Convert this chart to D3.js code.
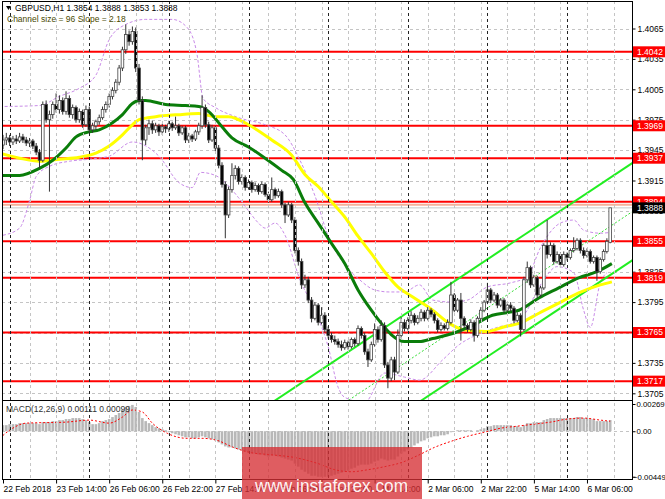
<!DOCTYPE html>
<html>
<head>
<meta charset="utf-8">
<script src="https://cdn.jsdelivr.net/npm/d3@7"></script>
<style>
  body { margin: 0; background: #fff; }
  svg { display: block; }
  text { font-family: "Liberation Sans", Arial, sans-serif; }
</style>
</head>
<body>
<div id="chart"></div>
<script>
// ---- data (GBPUSD H1, 22 Feb 22:00 .. 6 Mar 13:00) ----
// [open, high, low, close]
const candles = [
  [1.3950,1.3960,1.3946,1.3955],[1.3955,1.3962,1.3950,1.3957],[1.3957,1.3960,1.3949,1.3953],[1.3953,1.3959,1.3950,1.3956],
  [1.3956,1.3960,1.3951,1.3954],[1.3954,1.3962,1.3952,1.3958],[1.3958,1.3961,1.3952,1.3955],[1.3955,1.3958,1.3949,1.3952],
  [1.3952,1.3957,1.3948,1.3954],[1.3954,1.3956,1.3946,1.3949],[1.3949,1.3952,1.3940,1.3943],[1.3943,1.3946,1.3927,1.3935],
  [1.3935,1.3993,1.3933,1.3990],[1.3990,1.3994,1.3972,1.3975],[1.3975,1.3984,1.3904,1.3980],[1.3980,1.3993,1.3976,1.3990],
  [1.3990,1.4001,1.3982,1.3985],[1.3985,1.3999,1.3981,1.3994],[1.3994,1.3997,1.3980,1.3983],[1.3983,1.4003,1.3980,1.3996],
  [1.3996,1.3999,1.3977,1.3980],[1.3980,1.3990,1.3976,1.3987],[1.3987,1.3989,1.3972,1.3975],[1.3975,1.3986,1.3972,1.3983],
  [1.3983,1.3985,1.3967,1.3970],[1.3970,1.3989,1.3968,1.3985],[1.3985,1.3988,1.3962,1.3965],[1.3965,1.3972,1.3962,1.3969],
  [1.3969,1.3975,1.3965,1.3973],[1.3973,1.3980,1.3970,1.3977],[1.3977,1.3988,1.3975,1.3985],[1.3985,1.3993,1.3982,1.3990],
  [1.3990,1.4001,1.3987,1.3998],[1.3998,1.4007,1.3995,1.4004],[1.4004,1.4015,1.4001,1.4012],[1.4012,1.4029,1.4009,1.4026],
  [1.4026,1.4047,1.4023,1.4044],[1.4044,1.4069,1.4040,1.4059],[1.4059,1.4063,1.4048,1.4052],[1.4052,1.4067,1.4049,1.4062],
  [1.4062,1.4066,1.4022,1.4026],[1.4026,1.4030,1.3990,1.3994],[1.3994,1.3998,1.3935,1.3955],[1.3955,1.3970,1.3950,1.3967],
  [1.3967,1.3975,1.3960,1.3971],[1.3971,1.3974,1.3961,1.3965],[1.3965,1.3972,1.3962,1.3969],[1.3969,1.3971,1.3959,1.3963],
  [1.3963,1.3971,1.3960,1.3968],[1.3968,1.3970,1.3962,1.3966],[1.3966,1.3974,1.3963,1.3971],[1.3971,1.3973,1.3964,1.3967],
  [1.3967,1.3978,1.3965,1.3969],[1.3969,1.3971,1.3959,1.3962],[1.3962,1.3969,1.3960,1.3967],[1.3967,1.3969,1.3952,1.3955],
  [1.3955,1.3962,1.3952,1.3959],[1.3959,1.3961,1.3953,1.3956],[1.3956,1.3965,1.3954,1.3963],[1.3963,1.3972,1.3960,1.3969],
  [1.3969,1.3999,1.3966,1.3987],[1.3987,1.3990,1.3967,1.3970],[1.3970,1.3973,1.3952,1.3955],[1.3955,1.3970,1.3953,1.3967],
  [1.3967,1.3969,1.3944,1.3947],[1.3947,1.3950,1.3927,1.3930],[1.3930,1.3933,1.3908,1.3911],[1.3911,1.3914,1.3858,1.3881],
  [1.3881,1.3909,1.3878,1.3906],[1.3906,1.3932,1.3903,1.3920],[1.3920,1.3930,1.3916,1.3927],[1.3927,1.3929,1.3911,1.3914],
  [1.3914,1.3921,1.3911,1.3918],[1.3918,1.3920,1.3905,1.3908],[1.3908,1.3916,1.3906,1.3913],[1.3913,1.3915,1.3903,1.3906],
  [1.3906,1.3913,1.3904,1.3910],[1.3910,1.3912,1.3901,1.3904],[1.3904,1.3914,1.3902,1.3911],[1.3911,1.3913,1.3899,1.3901],
  [1.3901,1.3904,1.3893,1.3896],[1.3896,1.3918,1.3894,1.3906],[1.3906,1.3908,1.3897,1.3900],[1.3900,1.3907,1.3898,1.3904],
  [1.3904,1.3906,1.3888,1.3891],[1.3891,1.3893,1.3873,1.3881],[1.3881,1.3894,1.3879,1.3891],[1.3891,1.3893,1.3873,1.3876],
  [1.3876,1.3879,1.3843,1.3846],[1.3846,1.3849,1.3831,1.3835],[1.3835,1.3838,1.3808,1.3812],[1.3812,1.3822,1.3809,1.3817],
  [1.3817,1.3820,1.3794,1.3797],[1.3797,1.3800,1.3775,1.3779],[1.3779,1.3795,1.3777,1.3792],[1.3792,1.3794,1.3772,1.3775],
  [1.3775,1.3790,1.3773,1.3782],[1.3782,1.3785,1.3765,1.3768],[1.3768,1.3771,1.3759,1.3762],[1.3762,1.3765,1.3755,1.3758],
  [1.3758,1.3762,1.3753,1.3756],[1.3756,1.3759,1.3750,1.3753],[1.3753,1.3757,1.3747,1.3750],[1.3750,1.3758,1.3748,1.3755],
  [1.3755,1.3757,1.3748,1.3751],[1.3751,1.3760,1.3749,1.3758],[1.3758,1.3760,1.3751,1.3754],[1.3754,1.3772,1.3752,1.3769],
  [1.3769,1.3771,1.3759,1.3762],[1.3762,1.3765,1.3743,1.3746],[1.3746,1.3749,1.3731,1.3738],[1.3738,1.3756,1.3736,1.3753],
  [1.3753,1.3774,1.3751,1.3768],[1.3768,1.3771,1.3755,1.3758],[1.3758,1.3777,1.3756,1.3772],[1.3772,1.3775,1.3730,1.3733],
  [1.3733,1.3736,1.3710,1.3720],[1.3720,1.3741,1.3717,1.3738],[1.3738,1.3741,1.3718,1.3726],[1.3726,1.3768,1.3724,1.3762],
  [1.3762,1.3780,1.3759,1.3775],[1.3775,1.3778,1.3766,1.3769],[1.3769,1.3780,1.3767,1.3777],[1.3777,1.3786,1.3774,1.3782],
  [1.3782,1.3784,1.3772,1.3775],[1.3775,1.3782,1.3773,1.3779],[1.3779,1.3788,1.3776,1.3785],[1.3785,1.3787,1.3776,1.3779],
  [1.3779,1.3790,1.3777,1.3787],[1.3787,1.3789,1.3780,1.3783],[1.3783,1.3785,1.3774,1.3777],[1.3777,1.3779,1.3765,1.3768],
  [1.3768,1.3775,1.3766,1.3772],[1.3772,1.3774,1.3767,1.3769],[1.3769,1.3778,1.3767,1.3775],[1.3775,1.3815,1.3773,1.3802],
  [1.3802,1.3804,1.3785,1.3787],[1.3787,1.3799,1.3785,1.3797],[1.3797,1.3804,1.3757,1.3779],[1.3779,1.3781,1.3769,1.3772],
  [1.3772,1.3774,1.3765,1.3768],[1.3768,1.3778,1.3766,1.3775],[1.3775,1.3777,1.3756,1.3762],[1.3762,1.3781,1.3760,1.3779],
  [1.3779,1.3790,1.3777,1.3787],[1.3787,1.3797,1.3785,1.3795],[1.3795,1.3814,1.3793,1.3807],[1.3807,1.3809,1.3794,1.3797],
  [1.3797,1.3805,1.3795,1.3802],[1.3802,1.3804,1.3789,1.3792],[1.3792,1.3799,1.3790,1.3797],[1.3797,1.3799,1.3784,1.3787],
  [1.3787,1.3794,1.3785,1.3792],[1.3792,1.3795,1.3786,1.3789],[1.3789,1.3791,1.3774,1.3777],[1.3777,1.3785,1.3775,1.3782],
  [1.3782,1.3784,1.3761,1.3768],[1.3768,1.3820,1.3766,1.3817],[1.3817,1.3835,1.3814,1.3829],[1.3829,1.3831,1.3809,1.3812],
  [1.3812,1.3822,1.3810,1.3819],[1.3819,1.3821,1.3799,1.3802],[1.3802,1.3811,1.3800,1.3809],[1.3809,1.3853,1.3807,1.3851],
  [1.3851,1.3876,1.3838,1.3842],[1.3842,1.3854,1.3840,1.3851],[1.3851,1.3853,1.3832,1.3835],[1.3835,1.3845,1.3833,1.3842],
  [1.3842,1.3844,1.3829,1.3832],[1.3832,1.3845,1.3830,1.3842],[1.3842,1.3844,1.3836,1.3839],[1.3839,1.3848,1.3837,1.3846],
  [1.3846,1.3859,1.3844,1.3848],[1.3848,1.3858,1.3846,1.3856],[1.3856,1.3858,1.3843,1.3846],[1.3846,1.3849,1.3838,1.3841],
  [1.3841,1.3848,1.3839,1.3845],[1.3845,1.3847,1.3833,1.3835],[1.3835,1.3841,1.3833,1.3839],[1.3839,1.3841,1.3816,1.3825],
  [1.3825,1.3839,1.3823,1.3837],[1.3837,1.3847,1.3835,1.3845],[1.3845,1.3858,1.3843,1.3855],[1.3854,1.3888,1.3853,1.3888]
];

// moving averages, [bar, price]
const maGreen = [
  [-1,1.3920],[5,1.3920],[11,1.3927],[15,1.3935],[19,1.3947],[22,1.3958],[26,1.3963],[29,1.3965],[33,1.3972],
  [36,1.3980],[39,1.3991],[41,1.3994],[43,1.3994],[49,1.3990],[55,1.3989],[59,1.3988],[62,1.3983],[66,1.3968],
  [69,1.3957],[74,1.3948],[79,1.3937],[84,1.3925],[87.5,1.3916],[91,1.3893],[95,1.3873],[99,1.3853],[103,1.3833],
  [107,1.3807],[111,1.3787],[114.5,1.3772],[117,1.3763],[121,1.3756],[125.5,1.3756],[129.5,1.3759],[135.5,1.3764],
  [141.5,1.3772],[147.5,1.3782],[152.5,1.3785],[155.5,1.3787],[161.5,1.3799],[167.5,1.3809],[173.5,1.3819],
  [179,1.3825],[183.5,1.3833]
];
const maYellow = [
  [-1,1.3942],[5,1.3937],[11,1.3934],[17,1.3936],[23,1.3938],[28,1.3942],[32,1.3949],[36,1.3960],[39,1.3970],
  [41,1.3975],[46,1.3978],[53,1.3980],[59,1.3981],[64,1.3978],[68,1.3978],[74,1.3970],[81,1.3955],[87,1.3940],
  [91,1.3921],[95,1.3909],[99,1.3894],[103,1.3879],[107,1.3860],[111,1.3843],[115,1.3825],[119,1.3810],
  [123.5,1.3800],[129.5,1.3787],[134.5,1.3774],[138.5,1.3768],[145.5,1.3766],[151.5,1.3771],[155.5,1.3774],
  [161.5,1.3784],[167.5,1.3794],[173.5,1.3804],[180,1.3812],[183.5,1.3815]
];

// purple dashed bands, [bar, price]
const bandUpper = [
  [-1,1.3988],[11,1.3989],[17,1.3998],[23,1.4006],[28,1.4019],[32,1.4054],[37,1.4069],[43,1.4074],[51,1.4074],
  [55.5,1.4066],[58.5,1.4039],[60.3,1.3996],[64,1.3987],[71,1.3977],[79,1.3970],[85,1.3960],[89.5,1.3935],
  [94,1.3900],[98.5,1.3856],[103,1.3832],[107.5,1.3817],[112,1.3807],[116.5,1.3805],[121,1.3805],[125.5,1.3812],
  [129.5,1.3797],[135.5,1.3795],[140,1.3797],[146,1.3810],[153,1.3814],[158,1.3820],[162,1.3849],[168,1.3873],
  [172,1.3876],[175,1.3866],[180,1.3863],[183.5,1.3864]
];
const bandLower = [
  [0,1.3861],[5,1.3868],[8,1.3895],[10,1.3919],[14,1.3929],[20,1.3934],[26,1.3936],[32,1.3939],[39,1.3953],
  [47,1.3939],[53,1.3913],[57,1.3908],[59.5,1.3923],[64,1.3920],[71,1.3898],[74,1.3885],[77,1.3873],[79,1.3868],
  [82,1.3873],[85,1.3861],[89.5,1.3817],[94,1.3787],[98,1.3751],[101,1.3711],[103,1.3701],[109,1.3696],
  [115,1.3725],[121,1.3721],[125.5,1.3718],[132.5,1.3738],[137.5,1.3753],[143,1.3763],[150,1.3771],[153.5,1.3774],
  [158,1.3787],[160,1.3800],[163,1.3817],[167,1.3830],[172,1.3824],[175,1.3787],[177,1.3770],[180,1.3814],[182,1.3824]
];

// linear regression channel: mid line end points, half width
const channelBars = [60, 190];
const channelMid = [1.3602, 1.3885];
const channelHalf = 0.0048;

// MACD(12,26,9) histogram per bar, signal line [bar, value]
const macdHist = [
  0.0006,0.0006,0.0007,0.0007,0.0007,0.0008,0.0008,0.0008,0.0008,
  0.0008,0.0008,0.0007,0.0009,0.0009,0.0009,0.0010,0.0010,0.0011,
  0.0011,0.0012,0.0012,0.0013,0.0013,0.0013,0.0012,0.0011,
  0.0009,0.0007,0.0007,0.0008,
  0.0010,0.0011,0.0012,0.0014,0.0016,0.0018,
  0.0021,0.0024,0.0025,0.0026,
  0.0024,0.0019,0.0013,
  0.0010,0.0008,0.0006,0.0004,0.0003,0.0002,0.0001,
  -0.0001,-0.0002,-0.0003,-0.0004,-0.0005,-0.0006,-0.0006,-0.0007,-0.0007,-0.0006,-0.0005,-0.0006,
  -0.0007,-0.0008,-0.0009,-0.0011,-0.0013,-0.0015,-0.0016,-0.0016,-0.0017,-0.0018,-0.0019,-0.0020,-0.0021,
  -0.0022,-0.0022,-0.0023,-0.0023,-0.0024,-0.0025,-0.0024,-0.0024,-0.0025,-0.0026,-0.0027,-0.0028,-0.0029,-0.0032,-0.0035,-0.0038,
  -0.0040,-0.0042,-0.0044,-0.0044,-0.0045,-0.0045,-0.0045,-0.0045,-0.0044,-0.0043,
  -0.0042,-0.0041,-0.0040,-0.0039,-0.0037,-0.0036,-0.0034,-0.0033,-0.0033,-0.0033,-0.0032,-0.0030,-0.0029,-0.0027,-0.0028,-0.0029,-0.0028,-0.0028,
  -0.0025,-0.0022,-0.0020,-0.0018,-0.0016,-0.0014,-0.0012,-0.0010,-0.0009,-0.0007,-0.0006,-0.0005,-0.0005,-0.0004,-0.0004,-0.0003,-0.0001,
  0.0000,0.0001,0.0001,0.0001,0.0001,0.0001,0.0000,0.0001,0.0002,0.0003,0.0005,0.0005,0.0006,0.0006,0.0006,
  0.0006,0.0006,0.0006,0.0005,0.0005,0.0004,0.0006,0.0008,0.0008,0.0009,0.0009,0.0009,0.0011,0.0012,0.0013,0.0013,0.0013,0.0013,0.0013,0.0013,0.0013,0.0013,0.0014,0.0014,0.0013,
  0.0013,0.0012,0.0012,0.0010,0.0010,0.0010,0.0010,0.00111
];
const macdSignal = [
  [-1,-0.0007],[2,0.0001],[7,0.0008],[19,0.0009],[26,0.0011],[32,0.0008],[36,0.0014],[39,0.0021],[42,0.0019],
  [45,0.0008],[49.5,-0.0002],[55.5,-0.0007],[60,-0.0007],[64.5,-0.0009],[69.5,-0.0016],[74.5,-0.0021],[80,-0.0023],
  [88,-0.0026],[95,-0.0032],[100,-0.0038],[105,-0.0040],[110,-0.0038],[115,-0.0035],[120,-0.0031],[125,-0.0024],
  [130,-0.0016],[135,-0.0010],[140,-0.0005],[145,-0.0001],[150,0.0003],[155,0.0005],[160,0.0007],[165,0.0009],
  [170,0.0012],[175,0.0013],[180,0.0011],[183,0.00099]
];

// levels and axis labels
const redLevels = [1.4042, 1.3969, 1.3937, 1.3894, 1.3855, 1.3819, 1.3765, 1.3717];
const priceTicks = [1.4065, 1.4035, 1.4005, 1.3975, 1.3945, 1.3915, 1.3885, 1.3855, 1.3825, 1.3795, 1.3765, 1.3735, 1.3705];
const bidPrice = 1.3888;
const askLevel = 1.3891;
const timeTickBars = [0, 16, 32, 48, 64, 80, 96, 112, 128, 144, 160, 176];
const timeLabels = ["22 Feb 2018", "23 Feb 14:00", "26 Feb 06:00", "26 Feb 22:00", "27 Feb 14:00", "28 Feb 06:00",
  "28 Feb 22:00", "1 Mar 14:00", "2 Mar 06:00", "2 Mar 22:00", "5 Mar 14:00", "6 Mar 06:00"];
const daySeparators = [2, 26, 50, 74, 98, 122, 146, 170];
const macdTicks = [0.00269, 0.0, -0.00449];

// ---- layout ----
const W = 665, H = 499;
const padL = 2, padR = 632, padT = 1, splitY = 400, baseY = 479;

const x = d3.scaleLinear().domain([0, 183]).range([3, 610.2]);
const y = d3.scaleLinear().domain([1.3705, 1.4065]).range([393.3, 28.5]);
const yM = d3.scaleLinear().domain([-0.00449, 0.00269]).range([476.7, 404]);

const svg = d3.select("#chart").append("svg").attr("width", W).attr("height", H);
const defs = svg.append("defs");
defs.append("clipPath").attr("id", "clipMain").append("rect")
  .attr("x", padL).attr("y", padT).attr("width", padR - padL).attr("height", splitY - padT);
defs.append("clipPath").attr("id", "clipMacd").append("rect")
  .attr("x", padL).attr("y", splitY + 1).attr("width", padR - padL).attr("height", baseY - splitY - 1);

const main = svg.append("g").attr("clip-path", "url(#clipMain)");
const macd = svg.append("g").attr("clip-path", "url(#clipMacd)");

// grid
const gridBars = d3.range(8, 190, 8);
svg.append("g").selectAll("line").data(gridBars).join("line")
  .attr("x1", d => Math.round(x(d)) + 0.5).attr("x2", d => Math.round(x(d)) + 0.5)
  .attr("y1", padT).attr("y2", baseY)
  .attr("stroke", "#c4c4c4").attr("stroke-dasharray", "3,3");
main.append("g").selectAll("line").data(priceTicks).join("line")
  .attr("x1", padL).attr("x2", padR)
  .attr("y1", d => Math.round(y(d)) + 0.5).attr("y2", d => Math.round(y(d)) + 0.5)
  .attr("stroke", "#c4c4c4").attr("stroke-dasharray", "3,3");
macd.append("line").attr("x1", padL).attr("x2", padR)
  .attr("y1", Math.round(yM(0)) + 0.5).attr("y2", Math.round(yM(0)) + 0.5)
  .attr("stroke", "#c4c4c4").attr("stroke-dasharray", "3,3");
svg.append("g").selectAll("line").data(daySeparators).join("line")
  .attr("x1", d => Math.round(x(d)) + 0.5).attr("x2", d => Math.round(x(d)) + 0.5)
  .attr("y1", padT).attr("y2", baseY)
  .attr("stroke", "#222").attr("stroke-dasharray", "3,3");

// horizontal levels
main.append("line").attr("x1", padL).attr("x2", padR)
  .attr("y1", y(askLevel)).attr("y2", y(askLevel))
  .attr("stroke", "#f7b09a").attr("stroke-width", 2);
main.append("line").attr("x1", padL).attr("x2", padR)
  .attr("y1", y(bidPrice)).attr("y2", y(bidPrice))
  .attr("stroke", "#c8c8c8").attr("stroke-width", 1);
main.append("g").selectAll("line").data(redLevels).join("line")
  .attr("x1", padL).attr("x2", padR)
  .attr("y1", d => y(d)).attr("y2", d => y(d))
  .attr("stroke", "#ff0000").attr("stroke-width", 2);

// bands
const band = d3.line().x(d => x(d[0])).y(d => y(d[1])).curve(d3.curveMonotoneX);
[bandUpper, bandLower].forEach(b => {
  main.append("path").datum(b).attr("d", band)
    .attr("fill", "none").attr("stroke", "#c98be8").attr("stroke-width", 1)
    .attr("stroke-dasharray", "3,2");
});

// regression channel
const chan = off => [[channelBars[0], channelMid[0] + off], [channelBars[1], channelMid[1] + off]];
const lineXY = d3.line().x(d => x(d[0])).y(d => y(d[1]));
main.append("path").datum(chan(channelHalf)).attr("d", lineXY)
  .attr("stroke", "#22ee22").attr("stroke-width", 2).attr("fill", "none");
main.append("path").datum(chan(-channelHalf)).attr("d", lineXY)
  .attr("stroke", "#22ee22").attr("stroke-width", 2).attr("fill", "none");
main.append("path").datum(chan(0)).attr("d", lineXY)
  .attr("stroke", "#33dd33").attr("stroke-width", 1).attr("stroke-dasharray", "2,2").attr("fill", "none");

// moving averages
const ma = d3.line().x(d => x(d[0])).y(d => y(d[1])).curve(d3.curveMonotoneX);
main.append("path").datum(maYellow).attr("d", ma)
  .attr("fill", "none").attr("stroke", "#ffff00").attr("stroke-width", 3);
main.append("path").datum(maGreen).attr("d", ma)
  .attr("fill", "none").attr("stroke", "#0a7d0a").attr("stroke-width", 3);

// candles
const cw = 2.6;
const cg = main.append("g");
cg.selectAll("line").data(candles).join("line")
  .attr("x1", (d, i) => x(i)).attr("x2", (d, i) => x(i))
  .attr("y1", d => y(d[1])).attr("y2", d => y(d[2]))
  .attr("stroke", "#333").attr("stroke-width", 1);
cg.selectAll("rect").data(candles).join("rect")
  .attr("x", (d, i) => x(i) - cw / 2)
  .attr("y", d => y(Math.max(d[0], d[3])))
  .attr("width", cw)
  .attr("height", d => Math.max(0.8, Math.abs(y(d[0]) - y(d[3]))))
  .attr("fill", d => d[3] >= d[0] ? "#fff" : "#000")
  .attr("stroke", "#444").attr("stroke-width", 0.8);

// MACD histogram + signal
macd.append("g").selectAll("rect").data(macdHist).join("rect")
  .attr("x", (d, i) => x(i) - 1.3)
  .attr("y", d => yM(Math.max(0, d)))
  .attr("width", 2.6)
  .attr("height", d => Math.abs(yM(d) - yM(0)))
  .attr("fill", "#b8b8b8");
macd.append("path").datum(macdSignal)
  .attr("d", d3.line().x(d => x(d[0])).y(d => yM(d[1])).curve(d3.curveMonotoneX))
  .attr("fill", "none").attr("stroke", "#ff0000").attr("stroke-width", 1)
  .attr("stroke-dasharray", "2,2");

// frame
svg.append("rect").attr("x", padL + 0.5).attr("y", padT + 0.5)
  .attr("width", padR - padL).attr("height", baseY - padT)
  .attr("fill", "none").attr("stroke", "#000");
svg.append("line").attr("x1", padL).attr("x2", padR).attr("y1", splitY + 0.5).attr("y2", splitY + 0.5)
  .attr("stroke", "#000");

// right price axis
const fs = "8.5px";
const yAxis = d3.axisRight(y).tickValues(priceTicks).tickSize(3).tickFormat(d3.format(".4f"));
const ya = svg.append("g").attr("transform", `translate(${padR + 0.5},0)`).call(yAxis);
ya.select(".domain").remove();
ya.selectAll("text").attr("x", 5).attr("font-size", fs).attr("fill", "#000");
ya.selectAll("line").attr("stroke", "#000");

const macdAxis = d3.axisRight(yM).tickValues(macdTicks).tickSize(3)
  .tickFormat(d => d === 0 ? "0.00" : d3.format(".5f")(d));
const ma2 = svg.append("g").attr("transform", `translate(${padR + 0.5},0)`).call(macdAxis);
ma2.select(".domain").remove();
ma2.selectAll("text").attr("x", d => d < 0 ? 0.5 : 4).attr("font-size", "7.8px").attr("fill", "#000");
ma2.selectAll("line").attr("stroke", "#000");

// red level labels
const lab = svg.append("g");
redLevels.forEach(v => {
  lab.append("rect").attr("x", padR + 1).attr("y", y(v) - 5.5).attr("width", W - padR).attr("height", 11).attr("fill", "#ff0000");
  lab.append("text").attr("x", padR + 5).attr("y", y(v)).attr("dy", "0.35em")
    .attr("font-size", fs).attr("fill", "#fff").text(v.toFixed(4));
});
lab.append("rect").attr("x", padR + 1).attr("y", y(bidPrice) - 5.5).attr("width", W - padR).attr("height", 11).attr("fill", "#000");
lab.append("text").attr("x", padR + 5).attr("y", y(bidPrice)).attr("dy", "0.35em")
  .attr("font-size", fs).attr("fill", "#fff").text(bidPrice.toFixed(4));

// bottom time axis
const xAxis = d3.axisBottom(x).tickValues(timeTickBars).tickSize(4).tickFormat((d, i) => timeLabels[i]);
const xa = svg.append("g").attr("transform", `translate(0,${baseY + 0.5})`).call(xAxis);
xa.select(".domain").remove();
xa.selectAll("line").attr("stroke", "#000");
xa.selectAll("text").attr("text-anchor", "start").attr("x", 0).attr("y", 6).attr("dy", "0.71em")
  .attr("font-size", fs).attr("fill", "#000");

// titles
svg.append("path").attr("d", "M6,6 L11,6 L8.5,10 Z").attr("fill", "#000");
svg.append("text").attr("x", 15).attr("y", 11).attr("font-size", fs).attr("fill", "#000")
  .text("GBPUSD,H1  1.3854 1.3888 1.3853 1.3888");
svg.append("text").attr("x", 7).attr("y", 22).attr("font-size", fs).attr("fill", "#4a4a00")
  .text("Channel size = 96 Slope = 2.18");
svg.append("text").attr("x", 6).attr("y", 411.5).attr("font-size", fs).attr("fill", "#333")
  .text("MACD(12,26,9) 0.00111 0.00099");

// watermark
svg.append("rect").attr("x", 242).attr("y", 447).attr("width", 180).attr("height", 52)
  .attr("fill", "rgba(214,48,52,0.78)");
svg.append("text").attr("x", 255).attr("y", 491.5).attr("font-size", "19px")
  .attr("textLength", 153).attr("lengthAdjust", "spacingAndGlyphs")
  .attr("fill", "rgba(255,255,255,0.95)")
  .text("www.instaforex.com");
</script>
</body>
</html>
